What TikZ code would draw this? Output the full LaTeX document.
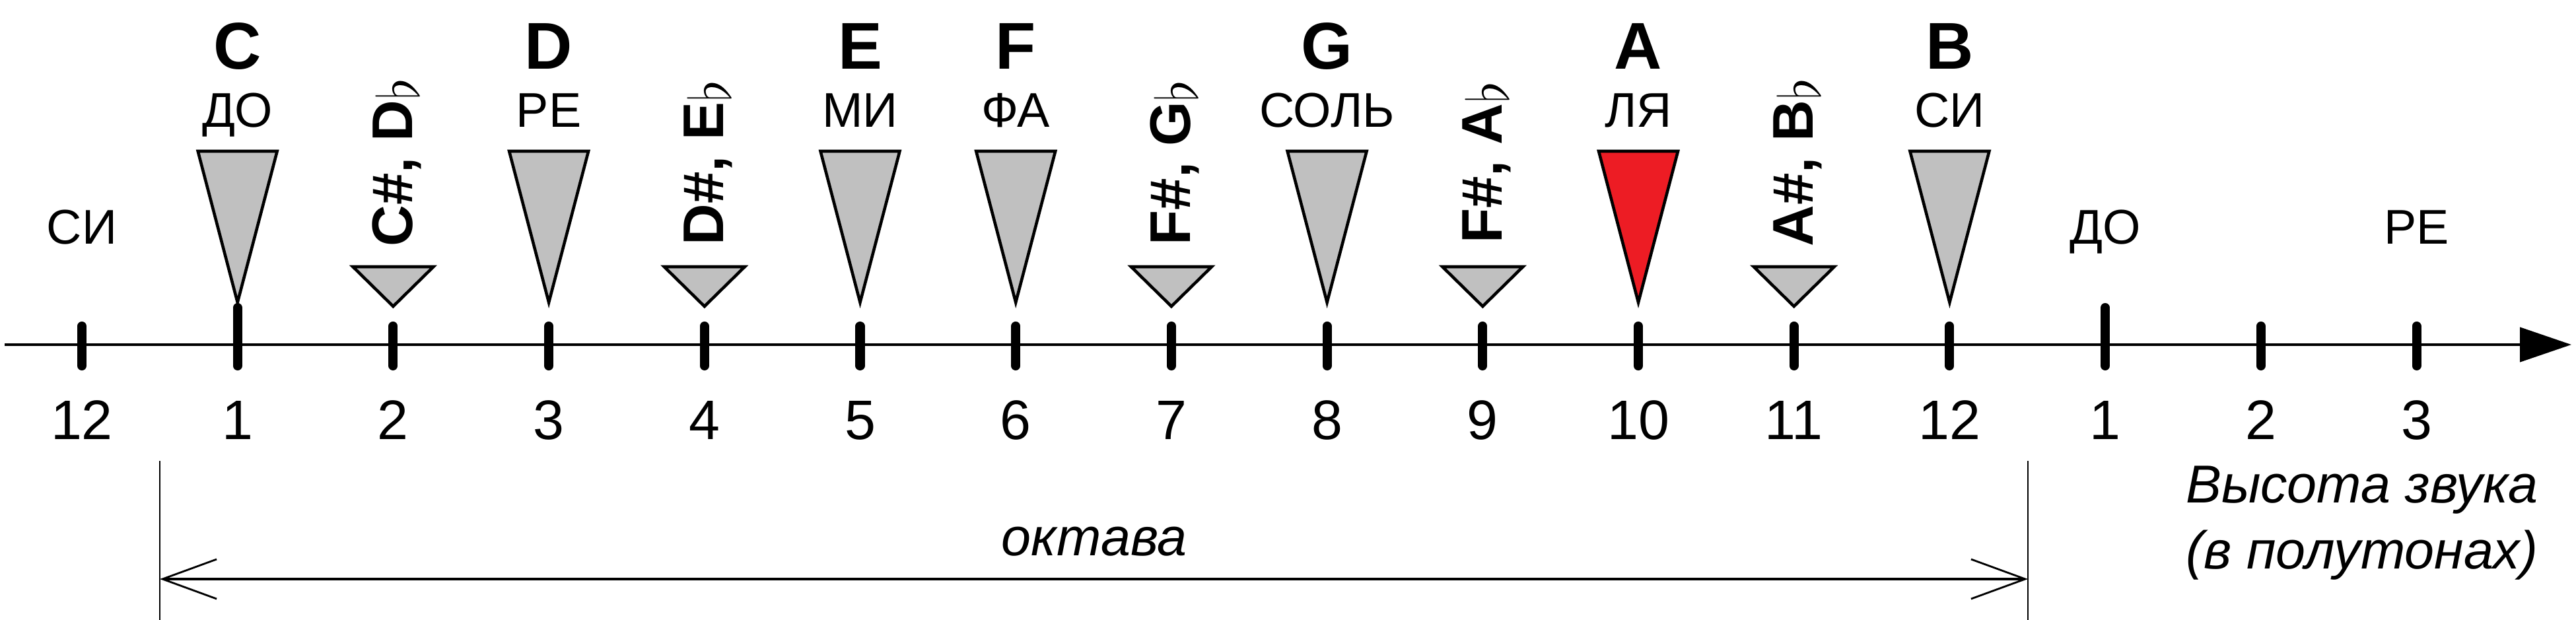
\documentclass[tikz,border=0pt]{standalone}
\usepackage{fontspec}
\setmainfont{Liberation Sans}
\usepackage{xcolor}
\usepackage{tikz}
\usetikzlibrary{arrows.meta, positioning}

\definecolor{keygray}{HTML}{C0C0C0}
\definecolor{keyred}{HTML}{ED1C24}

\tikzset{
    notch/.style={line width=4pt, line cap=round},
    whitekey/.style={draw, line width=1.3pt, fill=keygray},
    latinname/.style={font=\fontsize{28.5}{32}\selectfont\bfseries, anchor=base, inner sep=0pt},
    rusname/.style={font=\fontsize{21}{24}\selectfont, anchor=base, inner sep=0pt},
    sharpname/.style={font=\fontsize{24.7}{28}\selectfont\bfseries, rotate=90, anchor=base, inner sep=0pt},
    semitone/.style={font=\fontsize{24}{28}\selectfont, anchor=base, inner sep=0pt},
    italictext/.style={font=\fontsize{23}{27}\selectfont\itshape, anchor=base, inner sep=0pt}
}

\begin{document}
\begin{tikzpicture}[>=latex]
    \useasboundingbox (0,0) rectangle (39.01,9.39);

    % Деления оси
    \foreach \i in {0,...,15}
        \coordinate (t\i) at ({1.24+2.357*\i},4.17);
    \coordinate (axl) at (0.07,4.17);
    \coordinate (axr) at (38.94,4.17);

    % Ось
    \draw[line width=1.3pt, -{Triangle[length=0.78cm, width=0.52cm]}] (axl) -- (axr);
    \foreach \i in {0,2,3,4,5,6,7,8,9,10,11,12,14,15}
        \draw[notch] ([yshift=-0.32cm]t\i) -- ([yshift=0.28cm]t\i);
    \foreach \i in {1,13}
        \draw[notch] ([yshift=-0.32cm]t\i) -- ([yshift=0.56cm]t\i);

    % Клавиши
    \foreach \i in {1,3,5,6,8,12}
        \draw[whitekey] ([shift={(-0.6,2.93)}]t\i) -- ([shift={(0.6,2.93)}]t\i) -- ([yshift=0.64cm]t\i) -- cycle;
    \draw[whitekey, fill=keyred] ([shift={(-0.6,2.93)}]t10) -- ([shift={(0.6,2.93)}]t10) -- ([yshift=0.64cm]t10) -- cycle;
    \foreach \i in {2,4,7,9,11}
        \draw[whitekey] ([shift={(-0.61,1.18)}]t\i) -- ([shift={(0.61,1.18)}]t\i) -- ([yshift=0.58cm]t\i) -- cycle;

    % Названия нот
    \foreach \i/\l/\r in {1/C/ДО, 3/D/РЕ, 5/E/МИ, 6/F/ФА, 8/G/СОЛЬ, 10/A/ЛЯ, 12/B/СИ} {
        \node[latinname] (lat\i) at ([yshift=4.17cm]t\i) {\l};
        \node[rusname] (rus\i) at ([yshift=3.29cm]t\i) {\r};
    }
    \foreach \i/\a/\b in {2/C/D, 4/D/E, 7/F/G, 9/F/A, 11/A/B}
        \node[sharpname] (acc\i) at ([shift={(0.29,2.76)}]t\i) {\a\#, \b\raisebox{-0.12em}{$\flat$}};
    \node[rusname] (rus0) at ([yshift=1.52cm]t0) {СИ};
    \node[rusname] (rus13) at ([yshift=1.52cm]t13) {ДО};
    \node[rusname] (rus15) at ([yshift=1.52cm]t15) {РЕ};

    % Полутоны
    \foreach \i/\n in {0/12, 1/1, 2/2, 3/3, 4/4, 5/5, 6/6, 7/7, 8/8, 9/9, 10/10, 11/11, 12/12, 13/1, 14/2, 15/3}
        \node[semitone] (num\i) at ([yshift=-1.44cm]t\i) {\n};

    % Октава
    \coordinate (octl) at (2.42,0.62);
    \coordinate (octr) at (30.71,0.62);
    \draw[line width=0.7pt] ([yshift=-0.62cm]octl) -- ([yshift=1.79cm]octl);
    \draw[line width=0.7pt] ([yshift=-0.62cm]octr) -- ([yshift=1.79cm]octr);
    \draw[line width=1.2pt, {Straight Barb[length=0.82cm, width=0.6cm, line width'=0.8pt]}-{Straight Barb[length=0.82cm, width=0.6cm, line width'=0.8pt]}] (octl) -- (octr);
    \node[italictext] (oct) at (16.57,0.97) {октава};

    \node[italictext, anchor=base east] (pitch1) at (38.44,1.77) {Высота звука};
    \node[italictext, anchor=base east] (pitch2) at (38.44,0.77) {(в полутонах)};
\end{tikzpicture}
\end{document}
